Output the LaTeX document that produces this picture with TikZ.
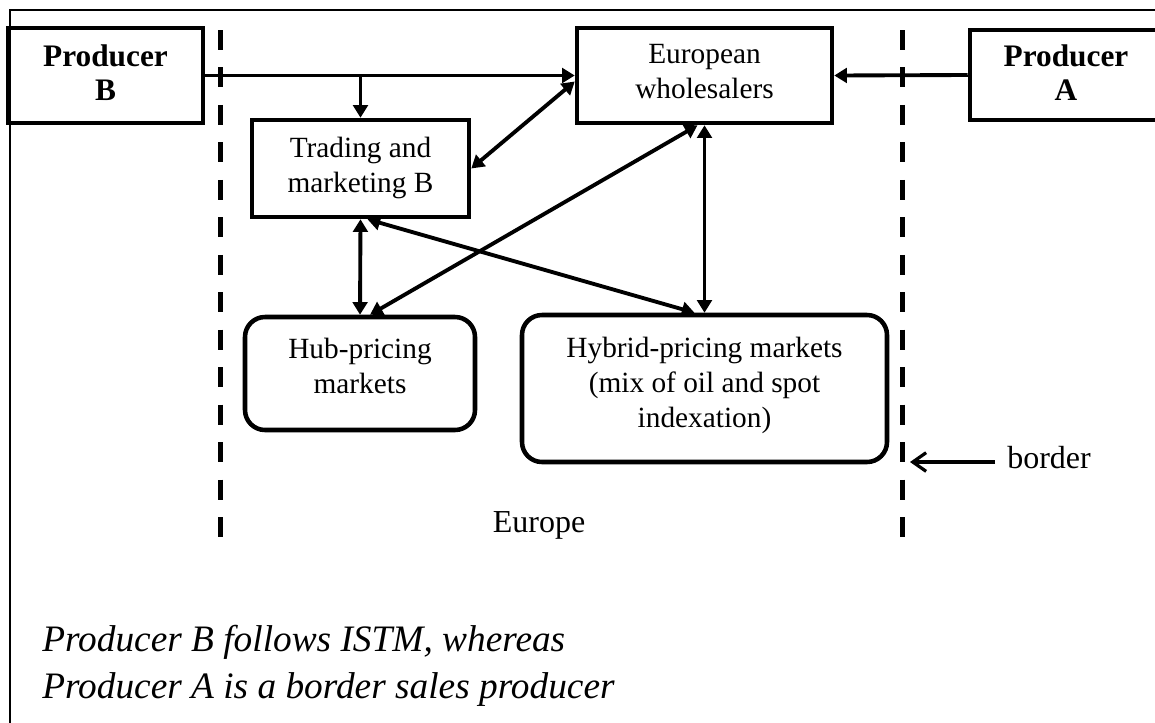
\documentclass[tikz,border=0pt]{standalone}
\usepackage{fontspec}
\setmainfont{Liberation Serif}
\usetikzlibrary{arrows.meta,calc}
\begin{document}
\begin{tikzpicture}[x=0.75pt,y=-0.75pt,
  box/.style={draw,line width=3.4pt,inner sep=0pt},
  rbox/.style={box,rounded corners=15pt},
  txt/.style={font=\fontsize{22}{26}\selectfont,align=center,anchor=base,inner sep=0pt},
  btxt/.style={txt,font=\fontsize{23.5}{25}\selectfont\bfseries},
  ltxt/.style={txt,font=\fontsize{24}{28}\selectfont},
  arr/.style={line width=2.9pt,-{Triangle[length=9.5pt,width=11pt]}},
  darr/.style={line width=2.9pt,{Triangle[length=9.5pt,width=11pt]}-{Triangle[length=9.5pt,width=11pt]}},
  bline/.style={line width=3.75pt,dash pattern=on 15pt off 13.1pt},
  barb/.style={line width=2.4pt,-{Straight Barb[length=10pt,width=14pt,line width=2.4pt]}}]
\useasboundingbox (0,0) rectangle (1155,722);
\clip (0,0) rectangle (1155,722);
% frame
\draw[line width=1.5pt] (10,10) rectangle (1300,900);
% borders
\draw[bline] (220,30) -- (220,540);
\draw[bline] (902,30) -- (902,540);
% boxes
\node[box,minimum width=146.25pt,minimum height=71.25pt] (PB) at (105.5,75.5) {};
\node[box,minimum width=191.25pt,minimum height=71.25pt] (EU) at (704.5,75.5) {};
\node[box,minimum width=144pt,minimum height=67.5pt] (PA) at (1066,75) {};
\node[box,minimum width=162.75pt,minimum height=72.75pt] (TR) at (360.5,168.5) {};
\node[rbox,minimum width=172.5pt,minimum height=84.75pt] (HUB) at (360,373.5) {};
\node[rbox,minimum width=273.75pt,minimum height=110.25pt] (HY) at (704.5,388.5) {};
% texts (base anchor = last line's baseline)
\node[btxt] (tPB) at (105.5,100) {Producer\\B};
\node[txt] (tEU) at (704.5,98) {European\\wholesalers};
\node[btxt] (tPA) at (1066,100) {Producer\\A};
\node[txt] (tTR) at (360.5,192) {Trading and\\marketing B};
\node[txt] (tHUB) at (360,393) {Hub-pricing\\markets};
\node[txt] (tHY) at (704.5,427) {Hybrid-pricing markets\\(mix of oil and spot\\indexation)};
\node[ltxt] (europe) at (539,532) {Europe};
\node[ltxt,anchor=base west] (border) at (1007,468) {border};
\node[font=\fontsize{28}{35}\selectfont\itshape,align=left,anchor=base west,inner sep=0pt] (note) at (42,698) {Producer B follows ISTM, whereas\\Producer A is a border sales producer};
% connectors
\draw[arr] (PB.east) -- (EU.west);
\draw[arr] (TR.north |- PB.east) -- (TR.north);
\draw[arr] (PA.west) -- (EU.east);
\draw[darr] (TR.east) -- ($(EU.west)+(0,6)$);
\draw[darr] (TR.south) -- (HUB.north);
\draw[darr] ($(TR.south)+(7,0)$) -- ($(HY.north)+(-10,0)$);
\draw[darr] ($(HUB.north)+(10,0)$) -- ($(EU.south)+(-7,0)$);
\draw[darr] (EU.south) -- (HY.north);
\coordinate (btail) at (995,462);
\coordinate (btip) at (910,462);
\draw[barb] (btail) -- (btip);
\end{tikzpicture}
\end{document}
